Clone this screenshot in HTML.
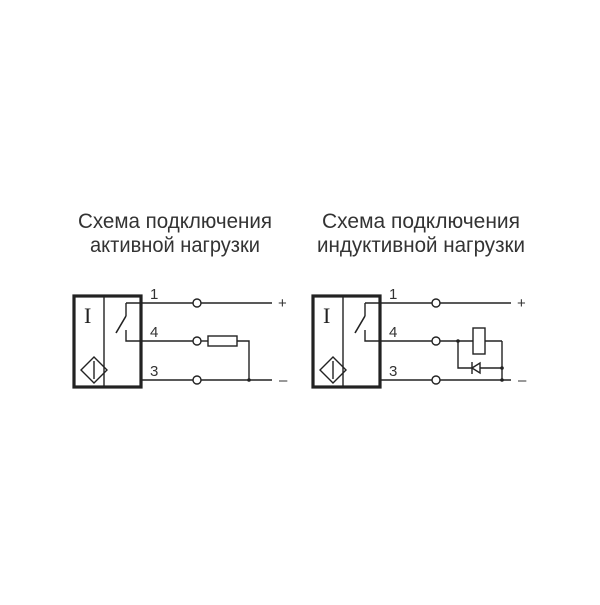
<!DOCTYPE html>
<html><head><meta charset="utf-8"><style>html,body{margin:0;padding:0;background:#fff;}</style></head>
<body>
<svg width="600" height="600" viewBox="0 0 600 600" xmlns="http://www.w3.org/2000/svg">
<g font-family="Liberation Sans, sans-serif" font-size="21" fill="#333">
<text x="78" y="228" textLength="194" lengthAdjust="spacingAndGlyphs">Схема подключения</text>
<text x="90" y="252" textLength="170" lengthAdjust="spacingAndGlyphs">активной нагрузки</text>
<text x="322" y="228" textLength="198" lengthAdjust="spacingAndGlyphs">Схема подключения</text>
<text x="317" y="252" textLength="208" lengthAdjust="spacingAndGlyphs">индуктивной нагрузки</text>
</g>
<g id="L" stroke="#222" fill="none">
<rect x="74" y="296" width="67" height="91" stroke-width="3.2"/>
<line x1="104" y1="296" x2="104" y2="387" stroke-width="1.4"/>
<text x="84" y="323" font-family="Liberation Serif, serif" font-size="22" fill="#222" stroke="none">I</text>
<polygon points="94,357 107,370 94,383 81,370" stroke-width="1.4"/>
<line x1="94" y1="361" x2="94" y2="379" stroke-width="1.4"/>
<polyline points="126,316 126,303" stroke-width="1.4"/>
<line x1="116" y1="333" x2="126" y2="316" stroke-width="1.6"/>
<polyline points="126,330 126,341 141,341" stroke-width="1.4"/>
<g stroke-width="1.4">
<line x1="126" y1="303" x2="193" y2="303"/>
<line x1="201" y1="303" x2="272" y2="303"/>
<line x1="141" y1="341" x2="193" y2="341"/>
<line x1="141" y1="380" x2="193" y2="380"/>
<circle cx="197" cy="303" r="4"/><circle cx="197" cy="341" r="4"/><circle cx="197" cy="380" r="4"/>
</g>
<g font-family="Liberation Sans, sans-serif" font-size="15" fill="#333" stroke="none">
<text x="150" y="299">1</text><text x="150" y="337">4</text><text x="150" y="376">3</text>
<text x="278" y="308">+</text><text x="279" y="385">–</text>
</g>
</g>
<g stroke="#222" fill="none" stroke-width="1.4">
<line x1="201" y1="341" x2="208" y2="341"/>
<rect x="208" y="336" width="29" height="10"/>
<polyline points="237,341 249,341 249,380"/>
<line x1="201" y1="380" x2="272" y2="380"/>
</g>
<circle cx="249" cy="380" r="1.8" fill="#222"/>
<use href="#L" x="239"/>
<g stroke="#222" fill="none" stroke-width="1.4">
<line x1="440" y1="341" x2="502" y2="341"/>
<line x1="440" y1="380" x2="511" y2="380"/>
<rect x="473" y="328" width="12" height="26" fill="#fff"/>
<polyline points="458,341 458,368 502,368"/>
<line x1="502" y1="341" x2="502" y2="380"/>
<polygon points="472,368 480,363 480,373" fill="#fff"/>
<line x1="472" y1="362" x2="472" y2="374"/>
</g>
<g fill="#222"><circle cx="458" cy="341" r="1.8"/><circle cx="502" cy="368" r="1.8"/><circle cx="502" cy="380" r="1.8"/></g>
</svg>
</body></html>
